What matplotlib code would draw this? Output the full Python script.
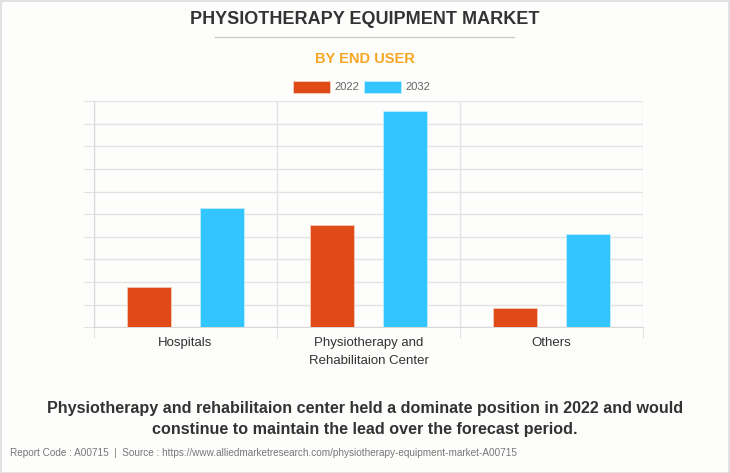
import matplotlib
matplotlib.use("Agg")
import matplotlib.pyplot as plt
import numpy as np
from matplotlib.patches import Rectangle
from matplotlib.lines import Line2D

categories = ["Hospitals", "Physiotherapy and\nRehabilitaion Center", "Others"]
years = ["2022", "2032"]
values_2022 = [1.8, 4.53, 0.85]
values_2032 = [5.27, 9.57, 4.13]
colors = ["#E04A17", "#33C5FF"]

plt.rcParams["font.family"] = ["Liberation Sans", "DejaVu Sans"]

fig = plt.figure(figsize=(7.3, 4.73), dpi=100)
fig.patch.set_facecolor("#fdfdfc")

# frame around the whole picture
fig.add_artist(Rectangle((0.001, 0.001), 0.998, 0.997, transform=fig.transFigure,
                         fill=False, edgecolor="#dddddd", linewidth=1.2))

ax = fig.add_axes([0.1288, 0.308, 0.752, 0.4785])
ax.set_facecolor("#fdfdfc")

x = np.arange(len(categories))
w = 0.24
ax.bar(x - 0.2, values_2022, w, color=colors[0], edgecolor="#f6c9b8", linewidth=0.6, zorder=3)
ax.bar(x + 0.2, values_2032, w, color=colors[1], edgecolor="#bfeeff", linewidth=0.6, zorder=3)

ax.set_xlim(-0.5, 2.5)
ax.set_ylim(0, 10)
ax.set_yticks(np.arange(0, 11, 1))
ax.set_yticklabels([])
ax.yaxis.grid(True, color="#e3e3e3", linewidth=1, zorder=0)

# category boundaries as ticks and vertical grid
ax.set_xticks([-0.5, 0.5, 1.5, 2.5])
ax.set_xticklabels([])
ax.xaxis.grid(True, color="#e3e3e3", linewidth=1, zorder=0)
ax.set_xticks(x, minor=True)
ax.set_xticklabels(categories, minor=True, fontsize=9.5, color="#333333", linespacing=1.65)
ax.tick_params(axis="x", which="minor", length=0, pad=7)
ax.tick_params(axis="x", which="major", length=8, color="#e3e3e3")
ax.tick_params(axis="y", length=8, color="#e3e3e3")

for s in ["top", "right"]:
    ax.spines[s].set_visible(False)
ax.spines["left"].set_color("#d8d8d8")
ax.spines["bottom"].set_color("#d8d8d8")

# titles
fig.text(0.5, 1 - 20 / 473, "PHYSIOTHERAPY EQUIPMENT MARKET", ha="center", va="center",
         fontsize=13, fontweight="bold", color="#333333")
fig.add_artist(Line2D([215 / 730, 514 / 730], [1 - 37 / 473, 1 - 37 / 473],
                      transform=fig.transFigure, color="#cccccc", linewidth=1))
fig.text(0.5, 1 - 59 / 473, "BY END USER", ha="center", va="center",
         fontsize=10.5, fontweight="bold", color="#F5A623")

# legend
for i, (yr, c) in enumerate(zip(years, colors)):
    x0 = (293 + i * 71) / 730
    fig.add_artist(Rectangle((x0, 1 - 93 / 473), 37 / 730, 12 / 473,
                             transform=fig.transFigure, facecolor=c,
                             edgecolor="#f0d0c0" if i == 0 else "#c0eeff", linewidth=0.6))
    fig.text(x0 + 41 / 730, 1 - 87 / 473, yr, ha="left", va="center",
             fontsize=8, color="#666666")

fig.text(0.5, 1 - 419 / 473,
         "Physiotherapy and rehabilitaion center held a dominate position in 2022 and would\n"
         "constinue to maintain the lead over the forecast period.",
         ha="center", va="center", fontsize=11.6, fontweight="bold", color="#333333",
         linespacing=1.5)
fig.text(10 / 730, 1 - 453 / 473,
         "Report Code : A00715  |  Source : https://www.alliedmarketresearch.com/physiotherapy-equipment-market-A00715",
         ha="left", va="center", fontsize=7.2, color="#777777")

fig.savefig("out.png", dpi=100, facecolor=fig.get_facecolor())
